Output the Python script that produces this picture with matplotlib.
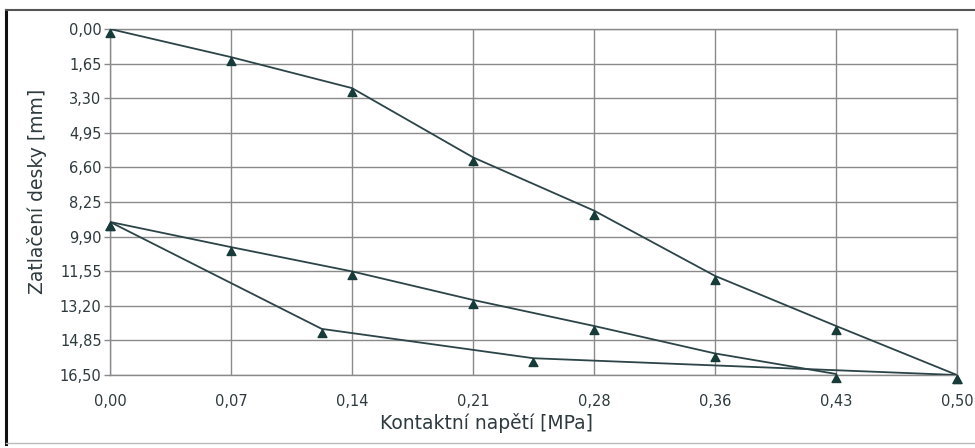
import matplotlib
matplotlib.use('Agg')
import matplotlib.pyplot as plt
from matplotlib.path import Path
from matplotlib.lines import Line2D

# --- Data ---
x_load = [0.0, 0.0714, 0.1429, 0.2143, 0.2857, 0.3571, 0.4286, 0.5]
load1_y = [0.00, 1.34, 2.82, 6.12, 8.66, 11.77, 14.16, 16.50]

unload_x = [0.5, 0.25, 0.125, 0.0]
unload_y = [16.50, 15.70, 14.30, 9.20]

reload_x = [0.0, 0.0714, 0.1429, 0.2143, 0.2857, 0.3571, 0.4286]
reload_y = [9.20, 10.40, 11.56, 12.92, 14.16, 15.47, 16.45]

x_ticks = [0.0, 0.0714, 0.1429, 0.2143, 0.2857, 0.3571, 0.4286, 0.5]
x_labels = ['0,00', '0,07', '0,14', '0,21', '0,28', '0,36', '0,43', '0,50']
y_ticks = [0.0, 1.65, 3.30, 4.95, 6.60, 8.25, 9.90, 11.55, 13.20, 14.85, 16.50]
y_labels = ['0,00', '1,65', '3,30', '4,95', '6,60', '8,25', '9,90',
            '11,55', '13,20', '14,85', '16,50']

plt.rcParams['font.family'] = ['DejaVu Sans']

line_col = '#2c4448'
mark_col = '#173b38'
grid_col = '#8a8a8a'
text_col = '#2e3a3e'

# triangle marker with its apex on the data point (as in the scan)
tri = Path([(0, 0), (0.55, -1), (-0.55, -1), (0, 0)],
           [Path.MOVETO, Path.LINETO, Path.LINETO, Path.CLOSEPOLY])

fig = plt.figure(figsize=(9.75, 4.48), dpi=100)
ax = fig.add_axes([0.1128, 0.1629, 0.8687, 0.7724])

for xs, ys in [(x_load, load1_y), (unload_x, unload_y), (reload_x, reload_y)]:
    ax.plot(xs, ys, color=line_col, lw=1.3, zorder=3)
    ax.plot(xs, ys, ls='none', marker=tri, ms=11.5, color=mark_col,
            clip_on=False, zorder=4)

ax.set_xlim(0, 0.5)
ax.set_ylim(16.5, 0)
ax.set_xticks(x_ticks)
ax.set_xticklabels(x_labels)
ax.set_yticks(y_ticks)
ax.set_yticklabels(y_labels)

ax.grid(True, color=grid_col, lw=1.0)
ax.set_axisbelow(True)
for s in ax.spines.values():
    s.set_color(grid_col)
    s.set_linewidth(1.0)

ax.tick_params(axis='x', length=0, pad=14, labelsize=10.5, labelcolor=text_col)
ax.tick_params(axis='y', length=4, width=1.0, color=grid_col, pad=2,
               labelsize=10.5, labelcolor=text_col)

ax.set_xlabel('Kontaktní napětí [MPa]', fontsize=13.5, color=text_col, va='center')
ax.xaxis.set_label_coords(0.444, -0.139)
ax.set_ylabel('Zatlačení desky [mm]', fontsize=13.5, color=text_col, va='center')
ax.yaxis.set_label_coords(-0.086, 0.53)

# outer chart border
fig.add_artist(Line2D([0.006, 0.006], [0.01, 0.978], transform=fig.transFigure,
                      color='#111111', lw=2.2))
fig.add_artist(Line2D([0.006, 1.0], [0.977, 0.977], transform=fig.transFigure,
                      color='#555555', lw=1.5))
fig.add_artist(Line2D([0.006, 1.0], [0.012, 0.012], transform=fig.transFigure,
                      color='#bbbbbb', lw=1.0))

fig.savefig('out.png', dpi=100)
